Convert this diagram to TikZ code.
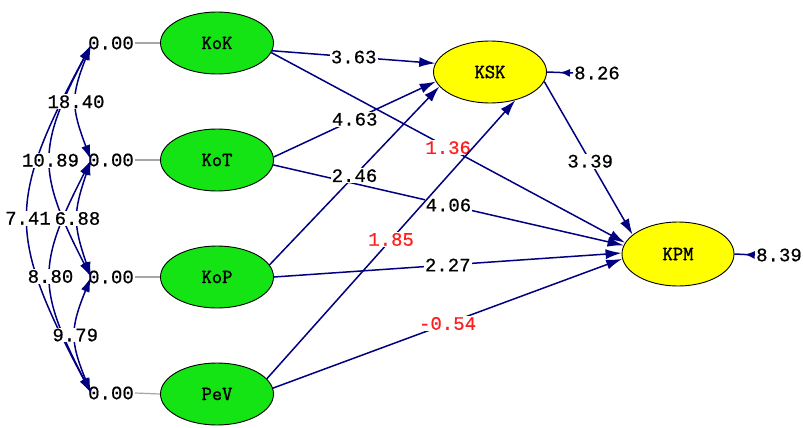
\documentclass[tikz,border=0pt]{standalone}
\usepackage{fontspec}
\newfontfamily\cour{Liberation Mono}[FakeBold=0.6]
\newfontfamily\lmtt{Latin Modern Mono}[FakeBold=1.6]
\usetikzlibrary{arrows.meta,shapes.geometric,decorations.markings}
\definecolor{lgreen}{RGB}{20,228,20}
\definecolor{lyellow}{RGB}{255,255,0}
\definecolor{navy}{RGB}{0,0,128}
\definecolor{lred}{RGB}{255,30,30}
\begin{document}
\begin{tikzpicture}[x=1pt,y=-1pt,
 lat/.style={ellipse, draw=black, line width=0.9pt, minimum width=113pt, minimum height=62pt, inner sep=0pt, font=\lmtt\fontsize{20}{20}\selectfont},
 num/.style={font=\cour\fontsize{19}{19}\selectfont, inner sep=1pt, text=black},
 lbl/.style={num, fill=white},
 rlbl/.style={lbl, text=lred},
 pth/.style={draw=navy, line width=1.5pt, -{Latex[length=16pt,width=10pt]}},
 cov/.style={draw=navy, line width=1.5pt, {Latex[length=15pt,width=9pt]}-{Latex[length=15pt,width=9pt]}},
 err/.style={draw=navy, line width=1.5pt, postaction={decorate}, decoration={markings, mark=at position 0.5 with {\arrow{Latex[length=10pt,width=8pt]}}}},
 gline/.style={draw=gray!70, line width=1.2pt}
]
\useasboundingbox (0,0) rectangle (803,428);
\fill[white] (0,0) rectangle (803,428);

% latent variables
\node[lat, fill=lgreen] (KoK) at (217,43) {KoK};
\node[lat, fill=lgreen] (KoT) at (217,160) {KoT};
\node[lat, fill=lgreen] (KoP) at (217,277) {KoP};
\node[lat, fill=lgreen] (PeV) at (217,394) {PeV};
\node[lat, fill=lyellow] (KSK) at (490,72) {KSK};
\node[lat, fill=lyellow, minimum width=112pt, minimum height=64pt] (KPM) at (678,254) {KPM};

% variances
\node[num] (zK) at (111,43) {0.00};
\node[num] (zT) at (111,160) {0.00};
\node[num] (zP) at (111,277) {0.00};
\node[num] (zV) at (111,393) {0.00};
\draw[gline] (zK.east) -- (KoK.west);
\draw[gline] (zT.east) -- (KoT.west);
\draw[gline] (zP.east) -- (KoP.west);
\draw[gline] (zV.east) -- (PeV.west);

\coordinate (cK) at (91,45);
\coordinate (cT) at (91,160);
\coordinate (cP) at (91,277);
\coordinate (cV) at (91,393);

% covariances
\draw[cov] (cK) .. controls (7,201) and (7,235) .. (cV) node[lbl, pos=0.5] {7.41};
\draw[cov] (cK) .. controls (37,148) and (37,172) .. (cP) node[lbl, pos=0.5] {10.89};
\draw[cov] (cT) .. controls (37,265) and (37,288) .. (cV) node[lbl, pos=0.5] {8.80};
\draw[cov] (cK) .. controls (71,96) and (71,107) .. (cT) node[lbl, pos=0.5] {18.40};
\draw[cov] (cT) .. controls (73,213) and (73,224) .. (cP) node[lbl, pos=0.5] {6.88};
\draw[cov] (cP) .. controls (70,329) and (70,341) .. (cV) node[lbl, pos=0.5] {9.79};

% structural paths
\draw[pth] (KoK.-8) -- (KSK.171) node[lbl, midway] {3.63};
\draw[pth] (KoK.-10) -- (KPM.168) node[rlbl, midway] {1.36};
\draw[pth] (KoT.3) -- (KSK.190) node[lbl, midway] {4.63};
\draw[pth] (KoT.-5) -- (KPM.171) node[lbl, midway] {4.06};
\draw[pth] (KoP.13) -- (KSK.196) node[lbl, midway] {2.46};
\draw[pth] (KoP.0) -- (KPM.179) node[lbl, midway] {2.27};
\draw[pth] (PeV.17) -- (KSK.-48) node[rlbl, midway] {1.85};
\draw[pth] (PeV.6) -- (KPM.185) node[rlbl, midway] {-0.54};
\draw[pth] (KSK.-10) -- (KPM.157) node[lbl, pos=0.52] {3.39};

% error variances
\node[num] (eKSK) at (597,73) {8.26};
\draw[err] (eKSK.west) -- (KSK.east);
\node[num] (eKPM) at (779,255) {8.39};
\draw[err] (eKPM.west) -- (KPM.east);
\end{tikzpicture}
\end{document}
